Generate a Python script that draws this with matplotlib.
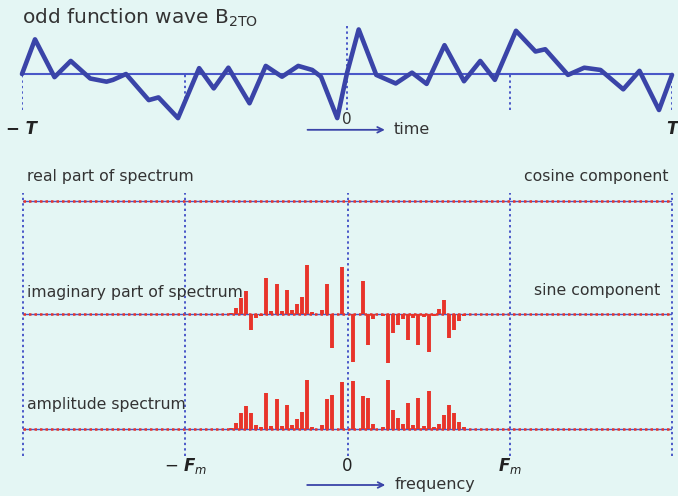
import matplotlib

matplotlib.use("Agg")
import matplotlib.pyplot as plt
import numpy as np

# time wave: vertices (t in units of T, amplitude normalised)
wave_t = [-1.0, -0.96, -0.90, -0.85, -0.79, -0.74, -0.72, -0.68, -0.61, -0.58,
          -0.52, -0.455, -0.41, -0.365, -0.30, -0.25, -0.20, -0.15, -0.107, -0.08,
          -0.03, 0.0, 0.036, 0.09, 0.15, 0.20, 0.245, 0.30, 0.36, 0.41,
          0.455, 0.52, 0.58, 0.61, 0.68, 0.73, 0.78, 0.85, 0.90, 0.96, 1.0]
wave_a = [0.0, 0.77, -0.07, 0.29, -0.10, -0.17, -0.13, 0.0, -0.58, -0.52,
          -0.98, 0.13, -0.32, 0.14, -0.65, 0.18, -0.06, 0.18, 0.09, -0.06,
          -0.98, 0.02, 0.99, -0.02, -0.21, 0.03, -0.22, 0.64, -0.16, 0.29,
          -0.13, 0.96, 0.50, 0.55, -0.02, 0.14, 0.09, -0.34, 0.07, -0.80, -0.02]

# spectrum: frequency bins (Fm = 32 bins), imaginary part
freq_k = list(range(-23, 24))
imag_vals = [0.02, 0.12, 0.32, 0.46, -0.32, -0.08, -0.04, 0.72, 0.06, 0.60,
             0.06, 0.48, 0.08, 0.20, 0.34, 0.98, 0.04, 0.0, 0.08, 0.60,
             -0.68, 0.0, 0.94, 0.0, -0.96, 0.0, 0.66, -0.62, -0.10, 0.0,
             -0.04, -0.98, -0.38, -0.22, -0.10, -0.52, -0.08, -0.62, -0.06, -0.76,
             -0.04, 0.10, 0.28, -0.48, -0.32, -0.14, -0.04]
real_vals = [0.0] * len(freq_k)
amp_vals = np.abs(np.array(imag_vals))  # odd wave -> spectrum is purely imaginary

time_ticks = [-1, -0.5, 0, 0.5, 1]
freq_ticks = [-64, -32, 0, 32, 64]
freq_labels = [r"$-\ \mathbfit{F}_{m}$", "0", r"$\mathbfit{F}_{m}$"]

W, H = 678, 496
BG = "#e4f6f4"
WAVE = "#3a44a8"
LINE = "#4a58c8"
RED = "#e8342a"
TXT = "#333333"


def fx(px):
    return px / W


def fy(py):
    return 1 - py / H


fig = plt.figure(figsize=(W / 100, H / 100), dpi=100, facecolor=BG)

# ---- time wave
ax_t = fig.add_axes([fx(22), fy(125), 650 / W, 105 / H])
ax_t.set_xlim(-1, 1)
ax_t.set_ylim(-1.133, 1.2)
ax_t.axis("off")
ax_t.axhline(0, color=LINE, lw=1.5)
for t in time_ticks:
    lo = -0.55 if t == -0.5 else -0.8
    hi = 1.1 if t == 0 else 0.0
    ax_t.plot([t, t], [lo, hi], color=LINE, lw=1.4, ls=(0, (1.2, 1.6)))
ax_t.plot(wave_t, wave_a, color=WAVE, lw=3.3, solid_joinstyle="round",
          solid_capstyle="round", clip_on=False)
ax_t.text(-1.0, -1.22, "\u2212 T", ha="center", va="center", fontsize=12,
          fontweight="bold", fontstyle="italic", color="#222222")
ax_t.text(1.0, -1.22, "T", ha="center", va="center", fontsize=12,
          fontweight="bold", fontstyle="italic", color="#222222")
ax_t.text(0.0, -1.0, "0", ha="center", va="center", fontsize=11, color=TXT)
ax_t.annotate("", xy=(0.125, -1.24), xytext=(-0.13, -1.24),
              arrowprops=dict(arrowstyle="->", color=WAVE, lw=1.3),
              annotation_clip=False)
ax_t.text(0.145, -1.24, "time", ha="left", va="center", fontsize=11.5, color=TXT)

fig.text(fx(22), fy(18), r"odd function wave B$_{\mathrm{2TO}}$", ha="left",
         va="center", fontsize=14.5, color=TXT)

# ---- spectrum (three rows sharing one frequency axis)
ax_s = fig.add_axes([fx(23), fy(465), 649 / W, 285 / H])
ax_s.set_xlim(-64, 64)
ax_s.set_ylim(-0.73, 4.97)
ax_s.axis("off")
rows = [(4.55, real_vals), (2.3, imag_vals), (0.0, amp_vals)]
for base, vals in rows:
    ax_s.axhline(base, color=LINE, lw=1.0)
    ax_s.axhline(base, color=RED, lw=1.8, ls=(0, (1, 1.2)))
    ax_s.vlines(freq_k, base, base + np.asarray(vals), color=RED, lw=2.8)
for k in freq_ticks:
    ax_s.plot([k, k], [-0.55, 4.71], color=LINE, lw=1.4, ls=(0, (1.2, 1.6)),
              clip_on=False)

for k, lab in zip(freq_ticks[1:4], freq_labels):
    ax_s.text(k, -0.75, lab, ha="center", va="center", fontsize=12,
              color="#222222")
ax_s.annotate("", xy=(8.0, -1.13), xytext=(-8.5, -1.13),
              arrowprops=dict(arrowstyle="->", color=WAVE, lw=1.3),
              annotation_clip=False)
ax_s.text(9.2, -1.13, "frequency", ha="left", va="center", fontsize=11.5,
          color=TXT)

fig.text(fx(27), fy(176), "real part of spectrum", ha="left", va="center",
         fontsize=11.3, color=TXT)
fig.text(fx(668), fy(176), "cosine component", ha="right", va="center",
         fontsize=11.3, color=TXT)
fig.text(fx(27), fy(292), "imaginary part of spectrum", ha="left", va="center",
         fontsize=11.3, color=TXT)
fig.text(fx(660), fy(290), "sine component", ha="right", va="center",
         fontsize=11.3, color=TXT)
fig.text(fx(27), fy(405), "amplitude spectrum", ha="left", va="center",
         fontsize=11.3, color=TXT)

fig.savefig("out.png", dpi=100, facecolor=BG)
